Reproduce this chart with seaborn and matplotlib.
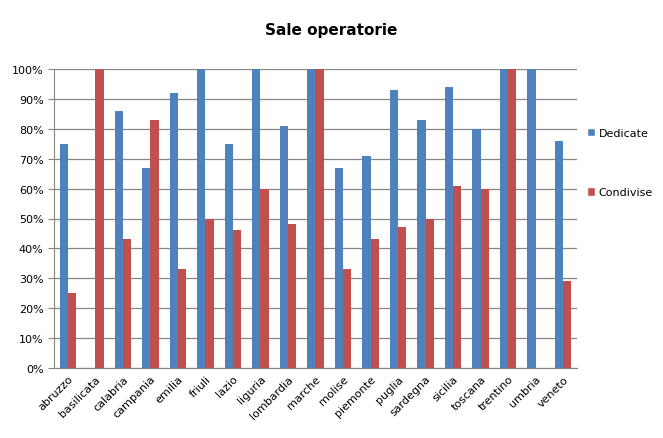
import matplotlib
matplotlib.use("Agg")
import matplotlib.pyplot as plt
import seaborn as sns
import pandas as pd
from matplotlib.patches import Patch
from matplotlib.ticker import PercentFormatter, MultipleLocator

regions = ["abruzzo", "basilicata", "calabria", "campania", "emilia", "friuli", "lazio",
           "liguria", "lombardia", "marche", "molise", "piemonte", "puglia", "sardegna",
           "sicilia", "toscana", "trentino", "umbria", "veneto"]
dedicate = [75, 0, 86, 67, 92, 100, 75, 100, 81, 100, 67, 71, 93, 83, 94, 80, 100, 100, 76]
condivise = [25, 100, 43, 83, 33, 50, 46, 60, 48, 100, 33, 43, 47, 50, 61, 60, 100, 0, 29]
series = ["Dedicate", "Condivise"]
colors = ["#4F81BD", "#C0504D"]

df = pd.DataFrame({"region": regions * 2,
                   "value": dedicate + condivise,
                   "series": [series[0]] * len(regions) + [series[1]] * len(regions)})

sns.set_style("white")
plt.rcParams['font.family'] = ['DejaVu Sans']
plt.rcParams['text.color'] = 'black'
plt.rcParams['xtick.color'] = 'black'
plt.rcParams['ytick.color'] = 'black'

fig = plt.figure(figsize=(6.63, 4.39), dpi=100)
ax = fig.add_axes([54/663, 1-369/439, (577-54)/663, (369-70)/439])
sns.barplot(data=df, x="region", y="value", hue="series", palette=colors,
            width=0.6, ax=ax, legend=False, saturation=1, linewidth=0, edgecolor="none")

ax.set_ylim(0, 100)
ax.set_xlim(-0.5, len(regions) - 0.5)
ax.yaxis.set_major_locator(MultipleLocator(10))
ax.yaxis.set_major_formatter(PercentFormatter(decimals=0))
ax.grid(axis="y", color="#868686", linewidth=0.9)
ax.set_axisbelow(True)
for s in ["top", "right"]:
    ax.spines[s].set_visible(False)
for s in ["left", "bottom"]:
    ax.spines[s].set_color("#868686")
ax.set_xlabel("")
ax.set_ylabel("")

ax.set_xticks(range(len(regions)))
ax.set_xticklabels(regions, rotation=45, ha="right", rotation_mode="anchor", fontsize=8)
ax.tick_params(axis="x", length=0, pad=4)
ax.set_xticks([i - 0.5 for i in range(len(regions) + 1)], minor=True)
ax.tick_params(axis="x", which="minor", length=5, color="#868686", direction="out")
ax.tick_params(axis="y", length=4, color="#868686", labelsize=8, labelcolor="black",
               direction="out", left=True)

fig.text(0.5, 1 - 30/439, "Sale operatorie", ha="center", va="center",
         fontsize=11, fontweight="bold", color="black")

handles = [Patch(facecolor=c, label=l) for c, l in zip(colors, series)]
fig.legend(handles=handles, loc="upper left", bbox_to_anchor=(581/663, 1 - 123/439),
           frameon=False, fontsize=8, handlelength=0.8, handleheight=0.8,
           handletextpad=0.3, labelspacing=4.45, borderpad=0)

fig.savefig("out.png", dpi=100)
